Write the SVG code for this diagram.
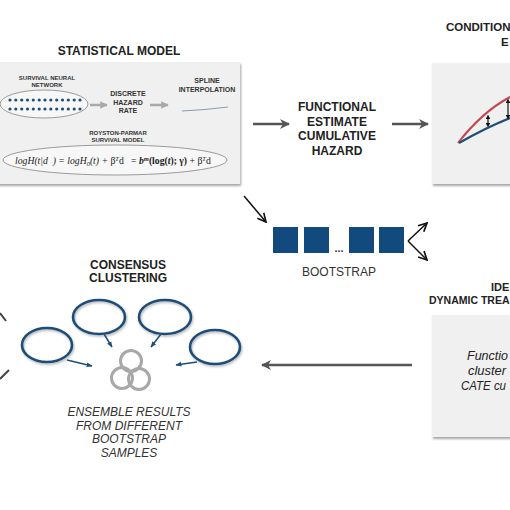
<svg xmlns="http://www.w3.org/2000/svg" width="510" height="510" viewBox="0 0 510 510">
<defs>
<filter id="sh" x="-10%" y="-10%" width="130%" height="130%"><feDropShadow dx="1" dy="2" stdDeviation="1.2" flood-color="#000" flood-opacity="0.35"/></filter>
<filter id="sh2" x="-20%" y="-20%" width="140%" height="140%"><feDropShadow dx="1" dy="1.5" stdDeviation="1" flood-color="#000" flood-opacity="0.3"/></filter>
<marker id="big" viewBox="0 0 10 10" refX="9" refY="5" markerWidth="4" markerHeight="4" orient="auto" markerUnits="strokeWidth"><path d="M0,0 L10,5 L0,10 L3,5 Z" fill="#555"/></marker>
<marker id="thin" viewBox="0 0 10 10" refX="9" refY="5" markerWidth="7" markerHeight="7" orient="auto" markerUnits="strokeWidth"><path d="M1,1 L9,5 L1,9" fill="none" stroke="#111" stroke-width="1.6"/></marker>
<marker id="gray" viewBox="0 0 10 10" refX="9" refY="5" markerWidth="3" markerHeight="3" orient="auto" markerUnits="strokeWidth"><path d="M0,0 L10,5 L0,10 Z" fill="#a9a9a9"/></marker>
<marker id="blue" viewBox="0 0 10 10" refX="9" refY="5" markerWidth="4" markerHeight="4" orient="auto" markerUnits="strokeWidth"><path d="M0,1 L10,5 L0,9 Z" fill="#1f4e79"/></marker>
<marker id="dbl" viewBox="0 0 10 10" refX="5" refY="5" markerWidth="4" markerHeight="4" orient="auto-start-reverse" markerUnits="strokeWidth"><path d="M0,0 L10,5 L0,10 Z" fill="#111"/></marker>
</defs>
<style>
.t{font-family:"Liberation Sans",Arial,sans-serif;font-weight:bold;fill:#222;text-anchor:middle}
.s{font-family:"Liberation Sans",Arial,sans-serif;font-weight:bold;fill:#333;text-anchor:middle}
.n{font-family:"Liberation Sans",Arial,sans-serif;fill:#333;text-anchor:middle}
.i{font-family:"Liberation Sans",Arial,sans-serif;font-style:italic;fill:#333;text-anchor:middle;font-size:12px}
.fi{font-family:"Liberation Sans",Arial,sans-serif;font-style:italic;fill:#222;font-size:13px}
.panel{fill:#f0f0f0;filter:url(#sh)}
.ar{stroke:#555;stroke-width:2.5;fill:none;marker-end:url(#big)}
.bub{fill:none;stroke:#1f4e79;stroke-width:2.6;filter:url(#sh2)}
.tail{stroke:#1f4e79;stroke-width:1.5;fill:none;marker-end:url(#blue)}
.venn{fill:none;stroke:#a8a8a8;stroke-width:3}
.sq{fill:#134a7e}
.dot{fill:#1f4e79}
</style>
<rect width="510" height="510" fill="#fff"/>

<g id="statistical-model">
<text class="t" x="119" y="55" font-size="12">STATISTICAL MODEL</text>
<rect class="panel" x="-5" y="62" width="245" height="122"/>
<ellipse cx="44" cy="104" rx="44" ry="14" fill="#f7f7f7" stroke="#9a9a9a" stroke-width="1"/>
<g class="dot">
<circle cx="10" cy="100" r="1.6"/><circle cx="15.8" cy="100" r="1.6"/><circle cx="21.7" cy="100" r="1.6"/><circle cx="27.5" cy="100" r="1.6"/><circle cx="33.3" cy="100" r="1.6"/><circle cx="39.2" cy="100" r="1.6"/><circle cx="45" cy="100" r="1.6"/><circle cx="50.8" cy="100" r="1.6"/><circle cx="56.7" cy="100" r="1.6"/><circle cx="62.5" cy="100" r="1.6"/><circle cx="68.3" cy="100" r="1.6"/><circle cx="74.2" cy="100" r="1.6"/><circle cx="80" cy="100" r="1.6"/>
<circle cx="10" cy="109" r="1.6"/><circle cx="15.8" cy="109" r="1.6"/><circle cx="21.7" cy="109" r="1.6"/><circle cx="27.5" cy="109" r="1.6"/><circle cx="33.3" cy="109" r="1.6"/><circle cx="39.2" cy="109" r="1.6"/><circle cx="45" cy="109" r="1.6"/><circle cx="50.8" cy="109" r="1.6"/><circle cx="56.7" cy="109" r="1.6"/><circle cx="62.5" cy="109" r="1.6"/><circle cx="68.3" cy="109" r="1.6"/><circle cx="74.2" cy="109" r="1.6"/><circle cx="80" cy="109" r="1.6"/>
</g>
<text class="s" x="47" y="80" font-size="6">SURVIVAL NEURAL</text>
<text class="s" x="47" y="86.5" font-size="6">NETWORK</text>
<line x1="90" y1="105" x2="107" y2="105" stroke="#a9a9a9" stroke-width="2.5" marker-end="url(#gray)"/>
<text class="s" x="128" y="95.5" font-size="7">DISCRETE</text>
<text class="s" x="128" y="104.5" font-size="7">HAZARD</text>
<text class="s" x="128" y="113" font-size="7">RATE</text>
<line x1="150" y1="105" x2="168" y2="105" stroke="#a9a9a9" stroke-width="2.5" marker-end="url(#gray)"/>
<text class="s" x="207" y="82.5" font-size="7">SPLINE</text>
<text class="s" x="207" y="91.5" font-size="7">INTERPOLATION</text>
<path d="M182,111 Q205,110 228,107" stroke="#8a9bb0" stroke-width="1" fill="none"/>
<text class="s" x="118" y="135" font-size="6">ROYSTON-PARMAR</text>
<text class="s" x="118" y="142" font-size="6">SURVIVAL MODEL</text>
<ellipse cx="115" cy="160" rx="112" ry="15" fill="#f7f7f7" stroke="#9a9a9a" stroke-width="1"/>
<text x="15" y="164" font-family="'Liberation Serif','Times New Roman',serif" font-style="italic" font-size="9.7" fill="#222" style="white-space:pre">logH(t|d  ) = logH<tspan font-size="6.5" dy="2">0</tspan><tspan dy="-2">(t) + </tspan><tspan font-style="normal">β</tspan><tspan font-size="6.5" dy="-3">T</tspan><tspan font-style="normal" dy="3">d   = </tspan><tspan font-weight="bold">b</tspan><tspan font-weight="bold" font-size="6.5" dy="-3">m</tspan><tspan font-weight="bold" font-style="normal" dy="3">(log(</tspan><tspan font-weight="bold">t</tspan><tspan font-weight="bold" font-style="normal">); γ)</tspan><tspan font-style="normal"> + β</tspan><tspan font-size="6.5" dy="-3">T</tspan><tspan font-style="normal" dy="3">d</tspan></text>
</g>

<g id="functional-estimate">
<text class="t" x="337" y="111" font-size="12">FUNCTIONAL</text>
<text class="t" x="337" y="125.5" font-size="12">ESTIMATE</text>
<text class="t" x="337" y="140" font-size="12">CUMULATIVE</text>
<text class="t" x="337" y="155" font-size="12">HAZARD</text>
</g>

<g id="cate">
<text class="t" x="446" y="31" font-size="11.5" style="text-anchor:start">CONDITION</text>
<text class="t" x="501" y="46" font-size="11.5" style="text-anchor:start">E</text>
<rect class="panel" x="432" y="63" width="90" height="121"/>
<path d="M458,143 Q482,112 510,97" stroke="#c5464f" stroke-width="2" fill="none"/>
<path d="M459,143 Q485,128 510,118" stroke="#1f4e79" stroke-width="2.2" fill="none"/>
<line x1="488" y1="117" x2="488" y2="125" stroke="#111" stroke-width="1.2" marker-start="url(#dbl)" marker-end="url(#dbl)"/>
<line x1="508" y1="101" x2="508" y2="117" stroke="#111" stroke-width="1.2" marker-start="url(#dbl)" marker-end="url(#dbl)"/>
</g>

<g id="bootstrap">
<rect class="sq" x="273" y="227" width="25" height="26"/>
<rect class="sq" x="304" y="227" width="25" height="26"/>
<rect class="sq" x="349" y="227" width="25" height="26"/>
<rect class="sq" x="379" y="227" width="25" height="26"/>
<text x="339" y="252" font-family="'Liberation Sans',Arial,sans-serif" font-size="11" font-weight="bold" fill="#333" text-anchor="middle">...</text>
<text class="n" x="339" y="276" font-size="12">BOOTSTRAP</text>
</g>

<g id="dynamic-treatment">
<text class="t" x="491" y="291" font-size="11" style="text-anchor:start">IDE</text>
<text class="t" x="429" y="304" font-size="10.5" style="text-anchor:start">DYNAMIC TREA</text>
<rect class="panel" x="432" y="315" width="90" height="122"/>
<text class="fi" x="467" y="360" textLength="41" lengthAdjust="spacingAndGlyphs">Functio</text>
<text class="fi" x="468" y="375" textLength="38" lengthAdjust="spacingAndGlyphs">cluster</text>
<text class="fi" x="461" y="390" font-size="12.5" textLength="45" lengthAdjust="spacingAndGlyphs">CATE cu</text>
</g>

<g id="consensus-clustering">
<text class="t" x="128" y="269" font-size="12">CONSENSUS</text>
<text class="t" x="128" y="282" font-size="12">CLUSTERING</text>
<ellipse class="bub" cx="47" cy="345" rx="25" ry="17"/>
<ellipse class="bub" cx="99" cy="317" rx="26" ry="17"/>
<ellipse class="bub" cx="165" cy="317" rx="26" ry="17"/>
<ellipse class="bub" cx="215" cy="347" rx="25" ry="17"/>
<line class="tail" x1="67" y1="360" x2="92" y2="366"/>
<line class="tail" x1="104" y1="334" x2="112" y2="347"/>
<line class="tail" x1="161" y1="334" x2="151" y2="347"/>
<line class="tail" x1="197" y1="362" x2="176" y2="365"/>
<circle class="venn" cx="131" cy="361" r="10.5"/>
<circle class="venn" cx="122" cy="378" r="10.5"/>
<circle class="venn" cx="139" cy="379" r="10.5"/>
<text class="i" x="129" y="416">ENSEMBLE RESULTS</text>
<text class="i" x="129" y="429.5">FROM DIFFERENT</text>
<text class="i" x="129" y="443">BOOTSTRAP</text>
<text class="i" x="129" y="457">SAMPLES</text>
</g>

<g id="connectors">
<line class="ar" x1="253" y1="124" x2="289" y2="124"/>
<line class="ar" x1="392" y1="124" x2="428" y2="124"/>
<line x1="244" y1="196" x2="266" y2="222" stroke="#111" stroke-width="1.5" marker-end="url(#thin)"/>
<line x1="408" y1="241" x2="427" y2="223" stroke="#111" stroke-width="1.5" marker-end="url(#thin)"/>
<line x1="408" y1="241" x2="427" y2="260" stroke="#111" stroke-width="1.5" marker-end="url(#thin)"/>
<line class="ar" x1="412" y1="365" x2="262" y2="365"/>
<path d="M0,313 L6,321" stroke="#444" stroke-width="2" fill="none"/>
<path d="M0,379 L9,370" stroke="#444" stroke-width="2" fill="none"/>
</g>
</svg>
